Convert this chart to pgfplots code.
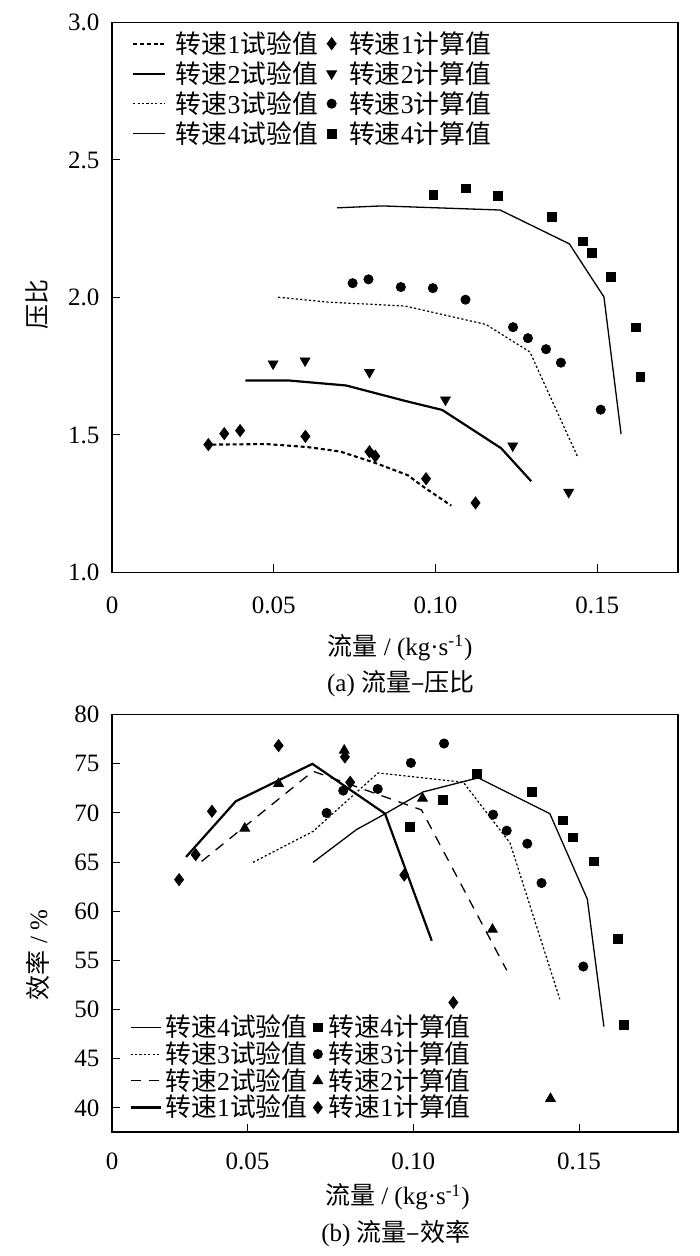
\documentclass[border=0pt]{standalone}
\usepackage{pgfplots}
\pgfplotsset{compat=1.18}
\usepackage{fontspec}
\setmainfont{Liberation Serif}
\newfontfamily\cjk{Noto Sans CJK SC}
\newcommand\C[1]{{\cjk #1}}
\newcommand\zs[1]{\C{转速}#1\C{试验值}}
\newcommand\js[1]{\C{转速}#1\C{计算值}}
\pgfplotsset{
  lineimg/.style={legend image code/.code={\draw[##1] (0pt,0pt) -- (#1,0pt);}},
  markimg/.style={legend image code/.code={\path[draw=none,fill=none] (-2.3pt,-0.1pt) rectangle (#1,0.1pt); \draw[##1] plot coordinates {(0pt,0pt)};}},
  myaxis/.style={
    scale only axis, anchor=south west,
    /pgf/number format/assume math mode=true,
    tick align=inside, tick pos=left, major tick length=4pt,
    axis line style={line width=0.6pt}, tick style={line width=0.5pt, black},
    tick label style={font=\fontsize{12.5}{15}\selectfont},
    label style={font=\fontsize{12.5}{15}\selectfont},
    yticklabel style={anchor=east, xshift=-2.8pt},
    clip=false,
  },
}
\begin{document}
\begin{tikzpicture}[font=\fontsize{12.5}{15}\selectfont]
\useasboundingbox (0,0) rectangle (350pt,628pt);
% ---------------- top: flow - pressure ratio
\begin{axis}[myaxis,
  at={(56pt,341.75pt)}, width=283pt, height=275pt,
  xmin=0, xmax=0.175, ymin=1, ymax=3,
  xtick={0,0.05,0.1,0.15}, xticklabels={0,0.05,0.10,0.15},
  ytick={1,1.5,2,2.5,3}, yticklabels={1.0,1.5,2.0,2.5,3.0},
  xticklabel style={anchor=base, yshift=-20.5pt},
  xlabel={\C{流量} / (kg·s\textsuperscript{-1})},
  xlabel style={at={(axis description cs:0.5,0)}, anchor=base, yshift=-41.5pt, xshift=2.5pt},
  ylabel={\C{压比}},
  ylabel style={at={(axis description cs:-0.133,0.488)}, anchor=center},
  legend columns=2,
  legend style={draw=none, fill=none, inner sep=0pt, at={(rel axis cs:0,1)}, anchor=north west,
    xshift=9.85pt, yshift=-2.9pt, row sep=0pt, column sep=0pt,
    font=\fontsize{12.9}{15}\selectfont,
    nodes={inner xsep=0pt, inner ysep=0pt, text height=12.25pt, text depth=2.75pt},
    /tikz/every odd column/.style={column sep=5pt},
    /tikz/every even column/.style={column sep=4.5pt}},
]
\addplot[black, line width=1.05pt, dash pattern=on 2pt off 1.4pt, lineimg=15.8pt] coordinates {
(0.0310,1.465)(0.0478,1.467)(0.0605,1.456)(0.0705,1.440)(0.0815,1.398)(0.0914,1.354)(0.0966,1.309)(0.1049,1.243)};
\addlegendentry{\zs{1}}
\addplot[black, only marks, mark=diamond*, mark size=3pt, markimg=3.75pt] coordinates {
(0.0298,1.465)(0.0347,1.505)(0.0396,1.516)(0.0598,1.495)(0.0796,1.439)(0.0814,1.423)(0.0971,1.341)(0.1124,1.253)};
\addlegendentry{\js{1}}
\addplot[black, line width=1.1pt, lineimg=15.8pt] coordinates {
(0.0412,1.698)(0.0548,1.698)(0.0724,1.680)(0.0906,1.624)(0.1021,1.591)(0.1203,1.452)(0.1296,1.332)};
\addlegendentry{\zs{2}}
\addplot[black, only marks, mark=triangle*, mark size=2.8pt, mark options={rotate=180}, markimg=3.75pt] coordinates {
(0.0498,1.759)(0.0597,1.770)(0.0796,1.728)(0.1031,1.628)(0.1239,1.461)(0.1412,1.292)};
\addlegendentry{\js{2}}
\addplot[black, line width=0.6pt, dash pattern=on 1.1pt off 1.1pt, lineimg=15.8pt] coordinates {
(0.0514,2.001)(0.0669,1.983)(0.0906,1.969)(0.1156,1.902)(0.1292,1.802)(0.1441,1.417)};
\addlegendentry{\zs{3}}
\addplot[black, only marks, mark=*, mark size=2.3pt, markimg=3.75pt] coordinates {
(0.0744,2.052)(0.0793,2.066)(0.0893,2.038)(0.0992,2.034)(0.1093,1.992)(0.1240,1.892)(0.1286,1.852)(0.1342,1.812)(0.1388,1.763)(0.1511,1.592)};
\addlegendentry{\js{3}}
\addplot[black, line width=0.65pt, lineimg=15.8pt] coordinates {
(0.0696,2.326)(0.0835,2.333)(0.1200,2.318)(0.1414,2.195)(0.1521,2.002)(0.1574,1.503)};
\addlegendentry{\zs{4}}
\addplot[black, only marks, mark=square*, mark size=2.2pt, markimg=3.75pt] coordinates {
(0.0994,2.373)(0.1094,2.397)(0.1194,2.369)(0.1361,2.293)(0.1455,2.204)(0.1483,2.162)(0.1543,2.074)(0.1621,1.891)(0.1634,1.712)};
\addlegendentry{\js{4}}
\end{axis}
\node[anchor=base] at (200.4pt,282pt) {(a) \C{流量–压比}};
% ---------------- bottom: flow - efficiency
\begin{axis}[myaxis,
  at={(56pt,62pt)}, width=283pt, height=208.75pt,
  xmin=0.00917, xmax=0.17985, ymin=37.56, ymax=80,
  xtick={0.00917,0.05,0.1,0.15}, xticklabels={0,0.05,0.10,0.15},
  ytick={40,45,50,55,60,65,70,75,80}, yticklabels={40,45,50,55,60,65,70,75,80},
  xticklabel style={anchor=base, yshift=-19pt},
  xlabel={\C{流量} / (kg·s\textsuperscript{-1})},
  xlabel style={at={(axis description cs:0.5,0)}, anchor=base, yshift=-36.5pt, xshift=1.2pt},
  ylabel={\C{效率} / \%},
  ylabel style={at={(axis description cs:-0.1316,0.424)}, anchor=center},
  legend columns=2,
  legend style={draw=none, fill=none, inner sep=0pt, at={(rel axis cs:0,0)}, anchor=south west,
    xshift=8.5pt, yshift=5.35pt, row sep=0pt, column sep=0pt,
    font=\fontsize{12.9}{15}\selectfont,
    nodes={inner xsep=0pt, inner ysep=0pt, text height=11.4pt, text depth=1.95pt},
    /tikz/every odd column/.style={column sep=2pt},
    /tikz/every even column/.style={column sep=2.75pt}},
]
\addplot[black, line width=0.65pt, lineimg=15pt] coordinates {
(0.0698,64.97)(0.0829,68.3)(0.0915,69.9)(0.1030,72.13)(0.1196,73.56)(0.1412,69.92)(0.1525,61.24)(0.1575,48.27)};
\addlegendentry{\zs{4}}
\addplot[black, only marks, mark=square*, mark size=2.2pt, markimg=3.5pt] coordinates {
(0.0990,68.57)(0.1090,71.28)(0.1193,73.96)(0.1359,72.13)(0.1452,69.24)(0.1481,67.51)(0.1545,65.07)(0.1618,57.17)(0.1636,48.45)};
\addlegendentry{\js{4}}
\addplot[black, line width=0.6pt, dash pattern=on 1.1pt off 1.1pt, lineimg=15pt] coordinates {
(0.0517,64.97)(0.0698,68.12)(0.0894,74.06)(0.1151,73.11)(0.1292,66.94)(0.1442,51.06)};
\addlegendentry{\zs{3}}
\addplot[black, only marks, mark=*, mark size=2.3pt, markimg=3.5pt] coordinates {
(0.0739,69.99)(0.0789,72.26)(0.0893,72.43)(0.0993,75.08)(0.1093,77.05)(0.1241,69.82)(0.1282,68.19)(0.1344,66.87)(0.1387,62.87)(0.1513,54.38)};
\addlegendentry{\js{3}}
\addplot[black, line width=0.65pt, dash pattern=on 5pt off 4pt, lineimg=15pt] coordinates {
(0.0362,65.07)(0.0698,74.23)(0.1025,70.30)(0.1282,54.0)};
\addlegendentry{\zs{2}}
\addplot[black, only marks, mark=triangle*, mark size=2.8pt, markimg=3.5pt] coordinates {
(0.0492,68.43)(0.0594,72.97)(0.0792,76.36)(0.1028,71.48)(0.1239,58.15)(0.1414,40.95)};
\addlegendentry{\js{2}}
\addplot[black, line width=1.1pt, lineimg=15pt] coordinates {
(0.0315,65.52)(0.0465,71.18)(0.0696,74.98)(0.0915,69.92)(0.1056,57.0)};
\addlegendentry{\zs{1}}
\addplot[black, only marks, mark=diamond*, mark size=3pt, markimg=3.5pt] coordinates {
(0.0294,63.21)(0.0344,65.75)(0.0393,70.16)(0.0594,76.84)(0.0794,75.69)(0.0810,73.11)(0.0973,63.68)(0.1121,50.72)};
\addlegendentry{\js{1}}
\end{axis}
\node[anchor=base] at (197.85pt,7pt) {(b) \C{流量–效率}};
\end{tikzpicture}
\end{document}
